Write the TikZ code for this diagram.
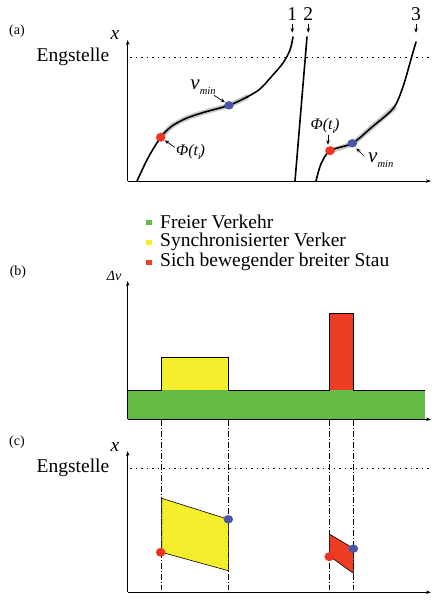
\documentclass[tikz,border=0pt]{standalone}
\usepackage{fontspec}
\setmainfont{Liberation Serif}
\usetikzlibrary{arrows.meta,positioning,calc}
\definecolor{frei}{HTML}{66BB46}
\definecolor{sync}{HTML}{F5EE2C}
\definecolor{stau}{HTML}{EE3D24}
\definecolor{punktrot}{HTML}{EE3322}
\definecolor{punktblau}{HTML}{4A55A8}
\newcommand{\vmin}{{\fontsize{21}{22}\selectfont\itshape v}\raisebox{-5pt}{\fontsize{10.5}{11}\selectfont\itshape min}}
\newcommand{\phiti}{{\itshape Φ(t}\raisebox{-4pt}{\fontsize{9}{10}\selectfont\itshape i}\kern-1pt{\itshape )}}

\begin{document}
\begin{tikzpicture}[
  x=1pt, y=-1pt,
  ax/.style={-{Stealth[length=5pt,width=3.5pt]}, line width=0.7pt},
  lbl/.style={inner sep=0pt, font=\fontsize{19.5}{22}\selectfont},
  tag/.style={inner sep=0pt, font=\fontsize{14}{16}\selectfont},
  small/.style={inner sep=0pt, font=\fontsize{16}{18}\selectfont},
  traj/.style={line width=1.6pt, line cap=round},
  halo/.style={line width=5pt, gray!55, opacity=0.8, line cap=round},
  engline/.style={line width=0.7pt, dash pattern=on 1.5pt off 4pt},
  guide/.style={line width=0.5pt, dash pattern=on 6pt off 2pt on 1pt off 2pt},
  ptr/.style={-{Stealth[length=4.5pt,width=3.5pt]}, line width=0.7pt},
  rdot/.style={fill=punktrot},
  bdot/.style={fill=punktblau},
  leg/.style={minimum width=6pt, minimum height=5pt, inner sep=0pt}
]
  \useasboundingbox (0,0) rectangle (431,605);

  % (a) trajectories
  \node[tag] (ta) at (17,31) {(a)};
  \coordinate (oa) at (127.7,181);
  \draw[ax] (oa) -- (127.7,40);
  \draw[ax] (oa) -- (431,181);
  \node[lbl, font=\fontsize{19.5}{22}\selectfont\itshape] (xa) at (115,35) {x};
  \node[lbl] (ea) at (73,57) {Engstelle};
  \draw[engline] (130,57) -- (431,57);

  \draw[halo] plot[smooth] coordinates {(160.7,137.3) (172,126) (187,118) (205,112) (229,105.3) (247,97)};
  \draw[traj] plot[smooth] coordinates {(137,181) (148,158) (160.7,137.3) (172,126) (187,118) (205,112)
    (229,105.3) (247,97) (260,89) (272,76) (283,63) (290,50) (293,37)};
  \draw[traj] (295,181) -- (307,37);
  \draw[halo] plot[smooth] coordinates {(330,150.7) (352.3,143.3) (372,127) (394,108)};
  \draw[traj] plot[smooth] coordinates {(316,181) (321,164) (330,150.7) (352.3,143.3) (372,127)
    (393.3,108.3) (403,86.7) (411.7,56.7) (416,42)};

  \coordinate (r1) at (160.7,137.3);
  \coordinate (b1) at (229,105.3);
  \coordinate (r3) at (330,150.7);
  \coordinate (b3) at (352.3,143.3);
  \fill[rdot] (r1) ellipse (4.8pt and 4.5pt);
  \fill[bdot] (b1) ellipse (4.8pt and 4.2pt);
  \fill[rdot] (r3) ellipse (4.8pt and 4.5pt);
  \fill[bdot] (b3) ellipse (4.8pt and 4.2pt);

  \node[lbl] (n1) at (292.3,14) {1};
  \node[lbl] (n2) at (308.3,14) {2};
  \node[lbl] (n3) at (416,14) {3};
  \draw[ptr] (n1.south) ++(0,3) -- ++(0,9);
  \draw[ptr] (n2.south) ++(0,3) -- ++(0,9);
  \draw[ptr] (n3.south) ++(0,3) -- ++(0,9);

  \node[small] (v1) at (203,87) {\vmin};
  \draw[ptr] ($(b1)+(-15,-10)$) -- ($(b1)+(-4,-3)$);
  \node[small, anchor=west] (p1) at (176,152) {\phiti};
  \draw[ptr] ($(r1)+(14,10)$) -- ($(r1)+(4,3)$);
  \node[small] (p3) at (325,126) {\phiti};
  \draw[ptr] ($(r3)+(-2,-16)$) -- ($(r3)+(-2,-6)$);
  \node[small, anchor=west] (v3) at (368,160) {\vmin};
  \draw[ptr] ($(b3)+(12,13)$) -- ($(b3)+(4,5)$);

  % legend
  \node[leg, fill=frei] (lf) at (149,222) {};
  \node[leg, fill=sync] (ls) at (149,242) {};
  \node[leg, fill=stau] (lr) at (149,262) {};
  \node[lbl, anchor=west] (tf) at (160,222) {Freier Verkehr};
  \node[lbl, anchor=west] (ts) at (160,242) {Synchronisierter Verker};
  \node[lbl, anchor=west] (tr) at (160,262) {Sich bewegender breiter Stau};

  % (b) speed drop
  \node[tag] (tb) at (18,272) {(b)};
  \node[tag, font=\fontsize{14}{16}\selectfont\itshape] (dv) at (114,276) {Δv};
  \fill[frei] (127.7,390) rectangle (425,419.3);
  \fill[sync] (161.7,357.3) rectangle (228.3,390);
  \fill[stau] (329.3,313.3) rectangle (353.3,390);
  \draw[line width=0.6pt] (127.7,390) -- (161.7,390) -- (161.7,357.3) -- (228.3,357.3) -- (228.3,390)
    -- (329.3,390) -- (329.3,313.3) -- (353.3,313.3) -- (353.3,390) -- (425,390);
  \coordinate (ob) at (127.7,419.3);
  \draw[ax] (ob) -- (127.7,281);
  \draw[ax] (ob) -- (431,419.3);

  % (c) jam regions
  \foreach \gx in {161.7,228.3,329.3,353.3}
    \draw[guide] (\gx,420) -- (\gx,590);
  \node[tag] (tc) at (17,442) {(c)};
  \coordinate (oc) at (127.7,592.3);
  \draw[ax] (oc) -- (127.7,451);
  \draw[ax] (oc) -- (431,592.3);
  \node[lbl, font=\fontsize{19.5}{22}\selectfont\itshape] (xc) at (115,447) {x};
  \node[lbl] (ec) at (73,468.3) {Engstelle};
  \draw[engline] (130,468.3) -- (431,468.3);

  \draw[fill=sync, line width=0.6pt] (161.7,498.3) -- (228.3,519.3) -- (228.3,570.7) -- (161.7,552.3) -- cycle;
  \draw[fill=stau, line width=0.6pt] (329.3,534) -- (353.3,548.3) -- (353.3,573.3) -- (329.3,556) -- cycle;
  \coordinate (r4) at (160.7,552.3);
  \coordinate (b4) at (228.3,519.3);
  \coordinate (r5) at (329.3,556.7);
  \coordinate (b5) at (353.3,548.7);
  \fill[rdot] (r4) ellipse (4.8pt and 4.5pt);
  \fill[bdot] (b4) ellipse (4.8pt and 4.2pt);
  \fill[rdot] (r5) ellipse (4.8pt and 4.5pt);
  \fill[bdot] (b5) ellipse (4.8pt and 4.2pt);
\end{tikzpicture}
\end{document}
